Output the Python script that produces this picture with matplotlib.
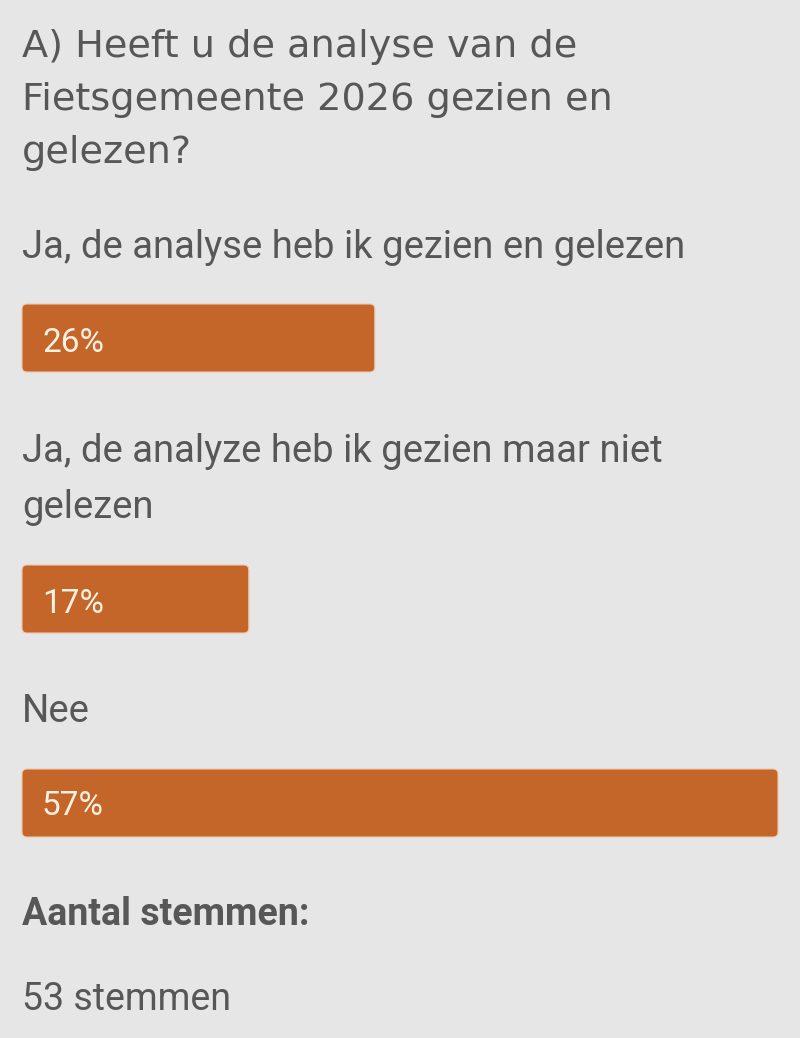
import matplotlib.pyplot as plt
from matplotlib.patches import FancyBboxPatch

# ------------------ DATA ------------------
question = ["A) Heeft u de analyse van de", "Fietsgemeente 2026 gezien en", "gelezen?"]
options = [
    ["Ja, de analyse heb ik gezien en gelezen"],
    ["Ja, de analyze heb ik gezien maar niet", "gelezen"],
    ["Nee"],
]
votes = [14, 9, 30]
total = sum(votes)
percentages = [round(v / total * 100) for v in votes]

# ------------------ STYLE ------------------
bg = "#e6e6e6"
text_col = "#575757"
bar_col = "#c4652a"
label_col = "#fdf1e2"

W, H = 800, 1038
left, full_w = 22, 756
bar_h = 68

fig = plt.figure(figsize=(W / 100, H / 100), dpi=100, facecolor=bg)
ax = fig.add_axes([0, 0, 1, 1])
ax.set_xlim(0, W)
ax.set_ylim(H, 0)
ax.axis("off")
ax.set_facecolor(bg)

# title (baselines in pixels)
for line, base in zip(question, [57, 110, 163]):
    ax.text(left, base, line, fontsize=27.5, family="DejaVu Sans", color=text_col, va="baseline")

option_baselines = [[258], [462, 518], [722]]
bar_tops = [304, 565, 769]
label_baselines = [352, 613, 815]

bars = ax.barh([t + bar_h / 2 for t in bar_tops],
               [v / max(votes) * full_w for v in votes],
               height=bar_h, left=left, color=bar_col)

for i, bar in enumerate(bars):
    for line, base in zip(options[i], option_baselines[i]):
        ax.text(left, base, line, fontsize=27.5, family="Roboto", color=text_col, va="baseline")
    # swap the plain bar for a rounded one
    x, y, w, h = bar.get_x(), bar.get_y(), bar.get_width(), bar.get_height()
    bar.set_visible(False)
    ax.add_patch(FancyBboxPatch((x, y), w, h, boxstyle="round,pad=0,rounding_size=5",
                                fc=bar_col, ec="#f0c7a8", lw=0.8))
    ax.text(left + 20, label_baselines[i], f"{percentages[i]}%", fontsize=24,
            family="Roboto", color=label_col, va="baseline")

ax.text(left, 925, "Aantal stemmen:", fontsize=27, family="Roboto", weight="bold",
        color=text_col, va="baseline")
ax.text(left, 1010, f"{total} stemmen", fontsize=27, family="Roboto",
        color=text_col, va="baseline")

fig.savefig("out.png", dpi=100, facecolor=bg)
